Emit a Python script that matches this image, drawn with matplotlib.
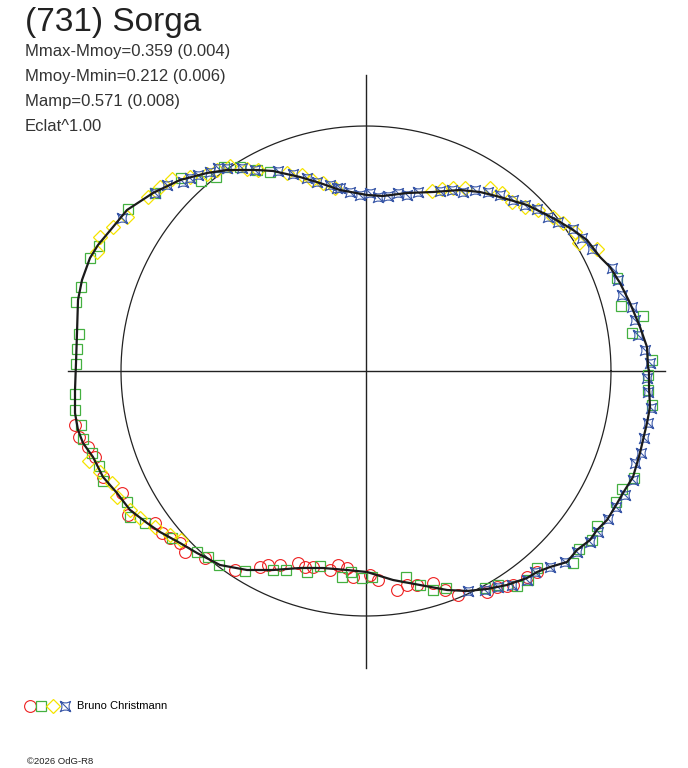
import numpy as np
import matplotlib
matplotlib.use('Agg')
import matplotlib.pyplot as plt
from matplotlib.path import Path
from matplotlib.legend_handler import HandlerTuple

plt.rcParams['font.family'] = ['Liberation Sans', 'DejaVu Sans']

# polar lightcurve, cartesian coords (circle radius = 2.45)
curve_x = [2.83, 2.82, 2.81, 2.74, 2.64, 2.54, 2.44, 2.34, 2.21, 2.07, 1.94, 1.81, 1.61, 1.34, 1.14, 0.94,
           0.67, 0.41, 0.17, 0.01, -0.26, -0.46, -0.66, -0.93, -1.09, -1.39, -1.59, -1.86, -2.13, -2.39,
           -2.53, -2.68, -2.76, -2.84, -2.88, -2.89, -2.90, -2.91, -2.91, -2.88, -2.83, -2.73, -2.63, -2.49,
           -2.36, -2.19, -2.06, -1.86, -1.69, -1.46, -1.19, -0.93, -0.66, -0.43, -0.19, 0.01, 0.27, 0.54,
           0.81, 1.01, 1.21, 1.41, 1.61, 1.71, 1.84, 2.01, 2.11, 2.24, 2.31, 2.41, 2.49, 2.57, 2.67, 2.74,
           2.77, 2.81, 2.84, 2.83, 2.83]
curve_y = [0.00, 0.04, 0.24, 0.44, 0.68, 0.88, 1.04, 1.14, 1.31, 1.41, 1.49, 1.56, 1.66, 1.74, 1.79, 1.81,
           1.79, 1.78, 1.75, 1.76, 1.81, 1.88, 1.94, 2.00, 2.01, 2.01, 1.98, 1.91, 1.78, 1.61,
           1.44, 1.26, 1.13, 0.91, 0.71, 0.38, 0.08, -0.19, -0.42, -0.59, -0.72, -0.86, -1.06, -1.22,
           -1.39, -1.52, -1.61, -1.72, -1.82, -1.94, -1.99, -1.99, -1.97, -1.97, -1.99, -2.01, -2.09, -2.14,
           -2.19, -2.20, -2.18, -2.14, -2.07, -2.01, -1.96, -1.91, -1.79, -1.69, -1.59, -1.49, -1.36, -1.22,
           -1.06, -0.82, -0.69, -0.52, -0.36, -0.16, 0.00]

red_x = [-2.91, -2.87, -2.78, -2.71, -2.63, -2.44, -2.38, -2.11, -2.04, -1.96, -1.86, -1.81, -1.61, -1.31,
         -1.06, -0.98, -0.86, -0.68, -0.61, -0.53, -0.36, -0.28, -0.19, -0.13, 0.04, 0.12, 0.31, 0.41,
         0.51, 0.67, 0.79, 0.92, 1.21, 1.31, 1.41, 1.47, 1.61, 1.71]
red_y = [-0.54, -0.66, -0.76, -0.86, -1.06, -1.22, -1.44, -1.52, -1.62, -1.67, -1.72, -1.81, -1.87, -1.99,
         -1.96, -1.94, -1.94, -1.92, -1.96, -1.96, -1.99, -1.94, -1.97, -2.06, -2.04, -2.09, -2.19, -2.14,
         -2.14, -2.12, -2.19, -2.24, -2.21, -2.16, -2.15, -2.14, -2.06, -2.01]

green_x = [-2.85, -2.90, -2.87, -2.89, -2.90, -2.91, -2.91, -2.76, -2.67, -2.38, -2.11, -1.85, -1.65, -1.50,
           -1.42, -1.26, -1.09, -0.96, 2.51, 2.55, 2.77, 2.66, 2.86, 2.82, 2.82, 2.86, 2.68, 2.56, 2.50,
           2.31, 2.26, 2.13, 2.07, 1.71, 1.62, 1.51, 1.32, 1.19, -2.21, -1.94, -1.69, -1.58, -1.47, -1.21,
           -0.93, -0.80, -0.59, -0.46, -0.24, -0.15, -0.04, 0.06, 0.40, 0.54, 0.67, 0.80, -2.85, -2.83,
           -2.74, -2.67, -2.63, -2.39, -2.36]
green_y = [0.84, 0.69, 0.37, 0.22, 0.07, -0.23, -0.39, 1.13, 1.25, 1.62, 1.78, 1.93, 1.90, 1.94,
           2.04, 2.04, 2.01, 1.99, 0.93, 0.65, 0.55, 0.38, 0.11, -0.04, -0.19, -0.34, -1.07, -1.18, -1.31,
           -1.55, -1.69, -1.78, -1.92, -1.97, -2.09, -2.15, -2.14, -2.17, -1.52, -1.67, -1.81, -1.86, -1.94, -2.00,
           -1.99, -1.99, -2.01, -1.95, -2.06, -2.01, -2.07, -2.06, -2.06, -2.14, -2.19, -2.17, -0.54, -0.68,
           -0.82, -0.95, -1.10, -1.31, -1.46]

yellow_x = [-2.69, -2.66, -2.53, -2.39, -2.18, -2.06, -1.94, -1.76, -1.59, -1.36, -1.19, -1.49, -1.08, -0.79,
            -0.64, -0.54, -0.43, -0.31, 0.66, 0.76, 0.87, 0.99, 1.24, 1.36, 1.46, 1.59, 1.72, 1.87, 1.97,
            2.09, 2.13, 2.31, -2.77, -2.66, -2.54, -2.49, -2.36, -2.26, -2.11, -1.96, -1.85]
yellow_y = [1.19, 1.34, 1.44, 1.54, 1.74, 1.84, 1.92, 1.94, 1.97, 2.05, 2.02, 2.01, 2.01, 1.98,
            1.96, 1.91, 1.88, 1.83, 1.80, 1.82, 1.83, 1.83, 1.83, 1.78, 1.69, 1.64, 1.61, 1.54, 1.48,
            1.39, 1.28, 1.22, -0.90, -1.01, -1.12, -1.26, -1.39, -1.47, -1.56, -1.64, -1.69]

blue_x = [-1.83, -1.76, -1.68, -1.56, -1.48, -1.39, -1.24, -1.11, -0.88, -0.73, -0.59, -0.49, -0.36, -0.29,
          -2.44, -2.11, -1.99, -0.26, -0.16, -0.06, 0.04, 0.12, 0.22, 0.32, 0.41, 0.52, 0.74, 0.86, 0.97,
          1.09, 1.22, 1.34, 1.47, 1.59, 1.71, 1.82, 1.92, 2.07, 2.16, 2.26, 2.46, 2.52, 2.56, 2.66, 2.69,
          2.72, 2.79, 2.84, 2.81, 2.82, 2.85, 2.82, 2.78, 2.75, 2.69, 2.67, 2.59, 2.50, 2.42, 2.32, 2.24,
          2.11, 1.99, 1.84, 1.69, 1.61, 1.46, 1.32, 1.19, 1.02]
blue_y = [1.89, 1.93, 1.96, 1.99, 2.03, 2.03, 2.03, 2.01, 2.00, 1.97, 1.93, 1.89, 1.86, 1.83,
          1.53, 1.78, 1.86, 1.83, 1.79, 1.76, 1.78, 1.74, 1.75, 1.78, 1.76, 1.79, 1.80, 1.81, 1.79,
          1.81, 1.79, 1.76, 1.71, 1.66, 1.62, 1.54, 1.49, 1.42, 1.33, 1.22, 1.03, 0.91, 0.76, 0.64, 0.51,
          0.36, 0.21, 0.08, -0.07, -0.21, -0.37, -0.52, -0.67, -0.82, -0.92, -1.09, -1.24, -1.36, -1.48, -1.61, -1.71,
          -1.81, -1.91, -1.96, -2.01, -2.09, -2.14, -2.16, -2.19, -2.20]

ref_radius = 2.45
observer = 'Bruno Christmann'
title = '(731) Sorga'
stats = ['Mmax-Mmoy=0.359 (0.004)', 'Mmoy-Mmin=0.212 (0.006)', 'Mamp=0.571 (0.008)', 'Eclat^1.00']

# concave square marker
star = Path([(1, 1), (0, 0.35), (-1, 1), (-0.35, 0), (-1, -1), (0, -0.35), (1, -1), (0.35, 0), (1, 1),
             (-1, -1), (1, -1), (-1, 1)],
            [Path.MOVETO, Path.CURVE3, Path.CURVE3, Path.CURVE3, Path.CURVE3, Path.CURVE3, Path.CURVE3,
             Path.CURVE3, Path.CURVE3, Path.MOVETO, Path.MOVETO, Path.LINETO])

fig = plt.figure(figsize=(6.88, 7.68), dpi=100)
ax = fig.add_axes([0, 0, 1, 1])
ax.set_xlim(-3.66, 3.22)
ax.set_ylim(-3.97, 3.71)
ax.axis('off')

ax.plot([-2.98, 2.99], [0, 0], color='#222222', lw=1.0)
ax.plot([0, 0], [-2.97, 2.96], color='#222222', lw=1.0)
t = np.linspace(0, 2 * np.pi, 400)
ax.plot(ref_radius * np.cos(t), ref_radius * np.sin(t), color='#222222', lw=0.9)

h_red, = ax.plot(red_x, red_y, 'o', ms=8.5, mfc='none', mec='#ee2020', mew=0.8, ls='none')
h_green, = ax.plot(green_x, green_y, 's', ms=7, mfc='none', mec='#44b040', mew=0.9, ls='none')
h_yellow, = ax.plot(yellow_x, yellow_y, 'D', ms=7, mfc='none', mec='#f5e400', mew=0.9, ls='none')
h_blue, = ax.plot(blue_x, blue_y, marker=star, ms=7.5, mfc='none', mec='#3a58a8', mew=0.8, ls='none')

ax.plot(curve_x, curve_y, color='#1a1a1a', lw=1.6, zorder=5)

fig.text(25 / 688, 1 - 31 / 768, title, fontsize=24, color='#222222')
for i, s in enumerate(stats):
    fig.text(25 / 688, 1 - (56 + 25 * i) / 768, s, fontsize=12, color='#333333')

leg = ax.legend(handles=[(h_red, h_green, h_yellow, h_blue)], labels=[observer],
                handler_map={tuple: HandlerTuple(ndivide=None, pad=0)},
                loc='lower left', bbox_to_anchor=(18 / 688, 51 / 768), frameon=False,
                fontsize=8, handlelength=4.3, handletextpad=0.55, borderpad=0)
fig.text(27 / 688, 1 - 764 / 768, '\u00a92026 OdG-R8', fontsize=6.8, color='#222222')

fig.savefig('out.png', dpi=100)
